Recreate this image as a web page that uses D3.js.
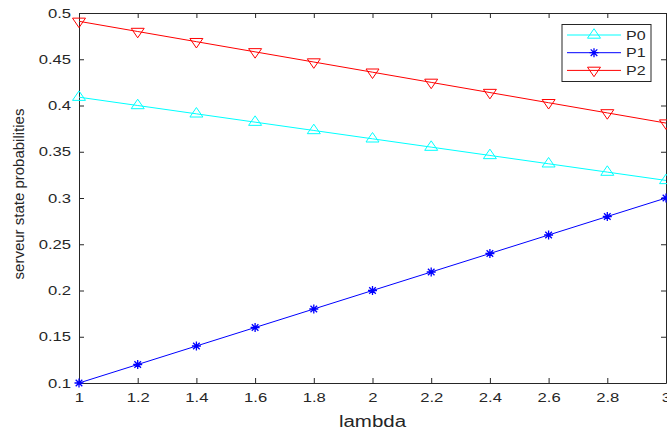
<!DOCTYPE html>
<html>
<head>
<meta charset="utf-8">
<script src="https://cdn.jsdelivr.net/npm/d3@7"></script>
<style>
  html, body { margin: 0; padding: 0; background: #fff; }
  svg { display: block; }
  text { font-family: "Liberation Sans", Arial, sans-serif; fill: #262626; }
</style>
</head>
<body>
<svg id="chart" width="667" height="432"></svg>
<script>
// Server state probabilities as a function of the arrival rate lambda
const lambda = [1, 1.2, 1.4, 1.6, 1.8, 2, 2.2, 2.4, 2.6, 2.8, 3];
const P0 = [0.409, 0.400, 0.391, 0.382, 0.373, 0.364, 0.355, 0.346, 0.337, 0.328, 0.319];
const P1 = [0.10, 0.12, 0.14, 0.16, 0.18, 0.20, 0.22, 0.24, 0.26, 0.28, 0.30];
const P2 = [0.491, 0.480, 0.469, 0.458, 0.447, 0.436, 0.425, 0.414, 0.403, 0.392, 0.381];

const xTicks = [1, 1.2, 1.4, 1.6, 1.8, 2, 2.2, 2.4, 2.6, 2.8, 3];
const yTicks = [0.1, 0.15, 0.2, 0.25, 0.3, 0.35, 0.4, 0.45, 0.5];
const seriesNames = ["P0", "P1", "P2"];
const seriesColors = ["#00ffff", "#0000ff", "#ff0000"];
const seriesMarkers = ["triangleUp", "star", "triangleDown"];

const svg = d3.select("#chart");
const plot = { left: 79, right: 666, top: 13, bottom: 383 };
const sx = 1.28; // horizontal widening of the text glyphs

const x = d3.scaleLinear().domain([1, 3]).range([plot.left, plot.right]);
const y = d3.scaleLinear().domain([0.1, 0.5]).range([plot.bottom, plot.top]);

const axisColor = "#262626";
const fmt = d => String(+d.toFixed(2));

// Bottom axis with labels
const gx = svg.append("g")
  .attr("transform", `translate(0,${plot.bottom})`)
  .call(d3.axisBottom(x).tickValues(xTicks).tickFormat(fmt)
    .tickSizeInner(-5).tickSizeOuter(0).tickPadding(10));
// Left axis with labels
const gy = svg.append("g")
  .attr("transform", `translate(${plot.left},0)`)
  .call(d3.axisLeft(y).tickValues(yTicks).tickFormat(fmt)
    .tickSizeInner(-5).tickSizeOuter(0).tickPadding(8 / sx));
// Top and right box edges with mirrored ticks
const gt = svg.append("g")
  .attr("transform", `translate(0,${plot.top})`)
  .call(d3.axisTop(x).tickValues(xTicks).tickFormat("")
    .tickSizeInner(-5).tickSizeOuter(0));
const gr = svg.append("g")
  .attr("transform", `translate(${plot.right},0)`)
  .call(d3.axisRight(y).tickValues(yTicks).tickFormat("")
    .tickSizeInner(-5).tickSizeOuter(0));

[gx, gy, gt, gr].forEach(g => {
  g.select(".domain").attr("stroke", axisColor).attr("stroke-width", 1);
  g.selectAll(".tick line").attr("stroke", axisColor).attr("stroke-width", 1);
});
[gx, gy].forEach(g => {
  g.selectAll(".tick text")
    .attr("font-size", 13)
    .attr("fill", axisColor)
    .attr("transform", `scale(${sx},1)`);
});

// Axis titles
svg.append("text")
  .attr("transform", `translate(${(plot.left + plot.right) / 2},427) scale(${sx},1)`)
  .attr("text-anchor", "middle")
  .attr("font-size", 16)
  .text("lambda");
svg.append("text")
  .attr("transform", `translate(24,194) rotate(-90)`)
  .attr("text-anchor", "middle")
  .attr("font-size", 15)
  .text("serveur state probabilities");

// Marker shapes
function markerPath(kind) {
  if (kind === "triangleUp") return "M0,-6.3L6.5,3.2L-6.5,3.2Z";
  if (kind === "triangleDown") return "M0,6.3L6.5,-3.2L-6.5,-3.2Z";
  // asterisk: plus and cross combined
  const r = 4.5, d = 3.3;
  return `M${-r},0L${r},0M0,${-r}L0,${r}M${-d},${-d}L${d},${d}M${-d},${d}L${d},${-d}`;
}

const series = [P0, P1, P2];
const line = d3.line().x((d, i) => x(lambda[i])).y(d => y(d));

series.forEach((vals, s) => {
  const g = svg.append("g");
  g.append("path")
    .datum(vals)
    .attr("fill", "none")
    .attr("stroke", seriesColors[s])
    .attr("stroke-width", 1)
    .attr("d", line);
  g.selectAll("path.mk")
    .data(vals)
    .join("path")
    .attr("class", "mk")
    .attr("transform", (d, i) => `translate(${x(lambda[i])},${y(d)})`)
    .attr("d", markerPath(seriesMarkers[s]))
    .attr("fill", "none")
    .attr("stroke", seriesColors[s])
    .attr("stroke-width", seriesMarkers[s] === "star" ? 1.3 : 1);
});

// Legend
const lg = svg.append("g");
lg.append("rect")
  .attr("x", 562).attr("y", 24.5)
  .attr("width", 89).attr("height", 57)
  .attr("fill", "#fff")
  .attr("stroke", axisColor).attr("stroke-width", 1);
seriesNames.forEach((name, s) => {
  const ly = 35 + s * 17.7;
  lg.append("line")
    .attr("x1", 567).attr("x2", 621)
    .attr("y1", ly).attr("y2", ly)
    .attr("stroke", seriesColors[s]).attr("stroke-width", 1);
  lg.append("path")
    .attr("transform", `translate(594,${ly})`)
    .attr("d", markerPath(seriesMarkers[s]))
    .attr("fill", "none")
    .attr("stroke", seriesColors[s])
    .attr("stroke-width", seriesMarkers[s] === "star" ? 1.3 : 1);
  lg.append("text")
    .attr("transform", `translate(626,${ly + 4.5}) scale(${sx},1)`)
    .attr("font-size", 12.5)
    .text(name);
});
</script>
</body>
</html>
